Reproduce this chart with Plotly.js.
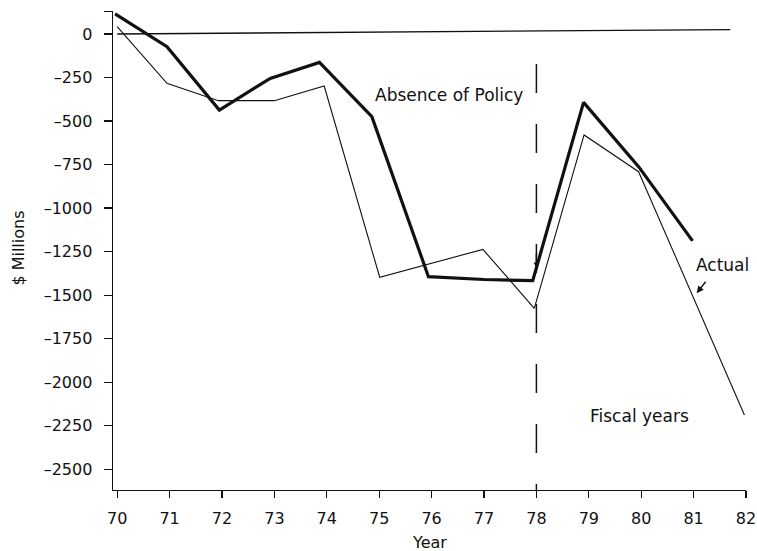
<!DOCTYPE html>
<html>
<head>
<meta charset="utf-8">
<script src="https://cdn.plot.ly/plotly-3.0.1.min.js"></script>
<style>
  html, body { margin: 0; padding: 0; background: #fff; }
  #chart { width: 757px; height: 551px; }
</style>
</head>
<body>
<div id="chart"></div>
<script>
// Thick line
var thickYears  = [69.96, 70.95, 71.95, 72.92, 73.86, 74.86, 75.94, 77.0, 77.93, 78.9, 79.95, 80.98];
var thickValues = [115, -73, -437, -255, -163, -475, -1394, -1410, -1417, -393, -762, -1188];

// Thin line ("Actual")
var thinYears  = [70.0, 70.95, 71.93, 73.0, 73.95, 75.01, 76.98, 77.96, 78.91, 79.95, 81.97];
var thinValues = [42, -283, -383, -383, -299, -1397, -1237, -1576, -580, -791, -2188];

// Zero reference line
var zeroYears  = [70, 81.7];
var zeroValues = [0, 25];

// Policy marker (dashed vertical)
var policyYear = 78;
var policyTop = -172;

// Axis ticks
var xTickVals = [70, 71, 72, 73, 74, 75, 76, 77, 78, 79, 80, 81, 82];
var xTickText = ["70", "71", "72", "73", "74", "75", "76", "77", "78", "79", "80", "81", "82"];
var yTickVals = [131, 0, -250, -500, -750, -1000, -1250, -1500, -1750, -2000, -2250, -2500];
var yTickText = ["", "0", "–250", "–500", "–750", "–1000", "–1250", "–1500", "–1750", "–2000", "–2250", "–2500"];

var FONT = "DejaVu Sans, Arial, sans-serif";
var INK = "#111";

var traces = [
  { x: zeroYears, y: zeroValues, mode: "lines", line: { color: INK, width: 1.3 }, hoverinfo: "skip", showlegend: false },
  { x: thinYears, y: thinValues, mode: "lines", name: "Actual", line: { color: INK, width: 1.1 }, showlegend: false },
  { x: thickYears, y: thickValues, mode: "lines", name: "Absence of Policy", line: { color: INK, width: 3.2 }, showlegend: false }
];

var layout = {
  width: 757, height: 551,
  margin: { l: 113, r: 11, t: 11, b: 61 },
  paper_bgcolor: "#fff", plot_bgcolor: "#fff",
  font: { family: FONT, size: 16, color: INK },
  showlegend: false,
  xaxis: {
    range: [69.92, 82.0], showgrid: false, zeroline: false,
    showline: true, linecolor: INK, linewidth: 1.4,
    ticks: "outside", ticklen: 7, tickwidth: 1.3, tickcolor: INK,
    tickmode: "array", tickvals: xTickVals, ticktext: xTickText,
    tickfont: { family: FONT, size: 16, color: INK },
    ticklabelstandoff: 6
  },
  yaxis: {
    range: [-2619, 132], showgrid: false, zeroline: false,
    showline: true, linecolor: INK, linewidth: 1.4,
    ticks: "outside", ticklen: 8, tickwidth: 1.3, tickcolor: INK,
    tickmode: "array", tickvals: yTickVals, ticktext: yTickText,
    tickfont: { family: FONT, size: 16, color: INK },
    ticklabelstandoff: 8
  },
  shapes: [
    { type: "line", xref: "x", yref: "y", x0: policyYear, x1: policyYear, y0: policyTop, y1: -2619,
      line: { color: INK, width: 1.5, dash: "29px,31px" } }
  ],
  annotations: [
    { xref: "paper", yref: "paper", x: 0.5, y: -0.1106, xanchor: "center", yanchor: "middle",
      text: "Year", showarrow: false, font: { family: FONT, size: 16, color: INK } },
    { xref: "paper", yref: "paper", x: -0.1493, y: 0.505, xanchor: "center", yanchor: "middle",
      text: "$ Millions", textangle: -90, showarrow: false, font: { family: FONT, size: 16, color: INK } },
    { xref: "x", yref: "y", x: 74.89, y: -350, xanchor: "left", yanchor: "middle",
      text: "Absence of Policy", showarrow: false, font: { family: FONT, size: 17, color: INK } },
    { xref: "x", yref: "y", x: 81.01, y: -1327, xanchor: "left", yanchor: "middle",
      text: "Actual", showarrow: false, font: { family: FONT, size: 17, color: INK } },
    { xref: "x", yref: "y", x: 78.99, y: -2192, xanchor: "left", yanchor: "middle",
      text: "Fiscal years", showarrow: false, font: { family: FONT, size: 17, color: INK } },
    { xref: "x", yref: "y", x: 81.06, y: -1489, ax: 10, ay: -13, text: "", showarrow: true,
      arrowhead: 2, arrowsize: 1, arrowwidth: 1.4, arrowcolor: INK, standoff: 0 },
    { xref: "x", yref: "y", x: policyYear, y: -1344, ax: 0, ay: -16, text: "", showarrow: true,
      arrowhead: 2, arrowsize: 0.8, arrowwidth: 1.4, arrowcolor: INK, standoff: 0 }
  ]
};

Plotly.newPlot("chart", traces, layout, { staticPlot: true, displayModeBar: false });
</script>
</body>
</html>
